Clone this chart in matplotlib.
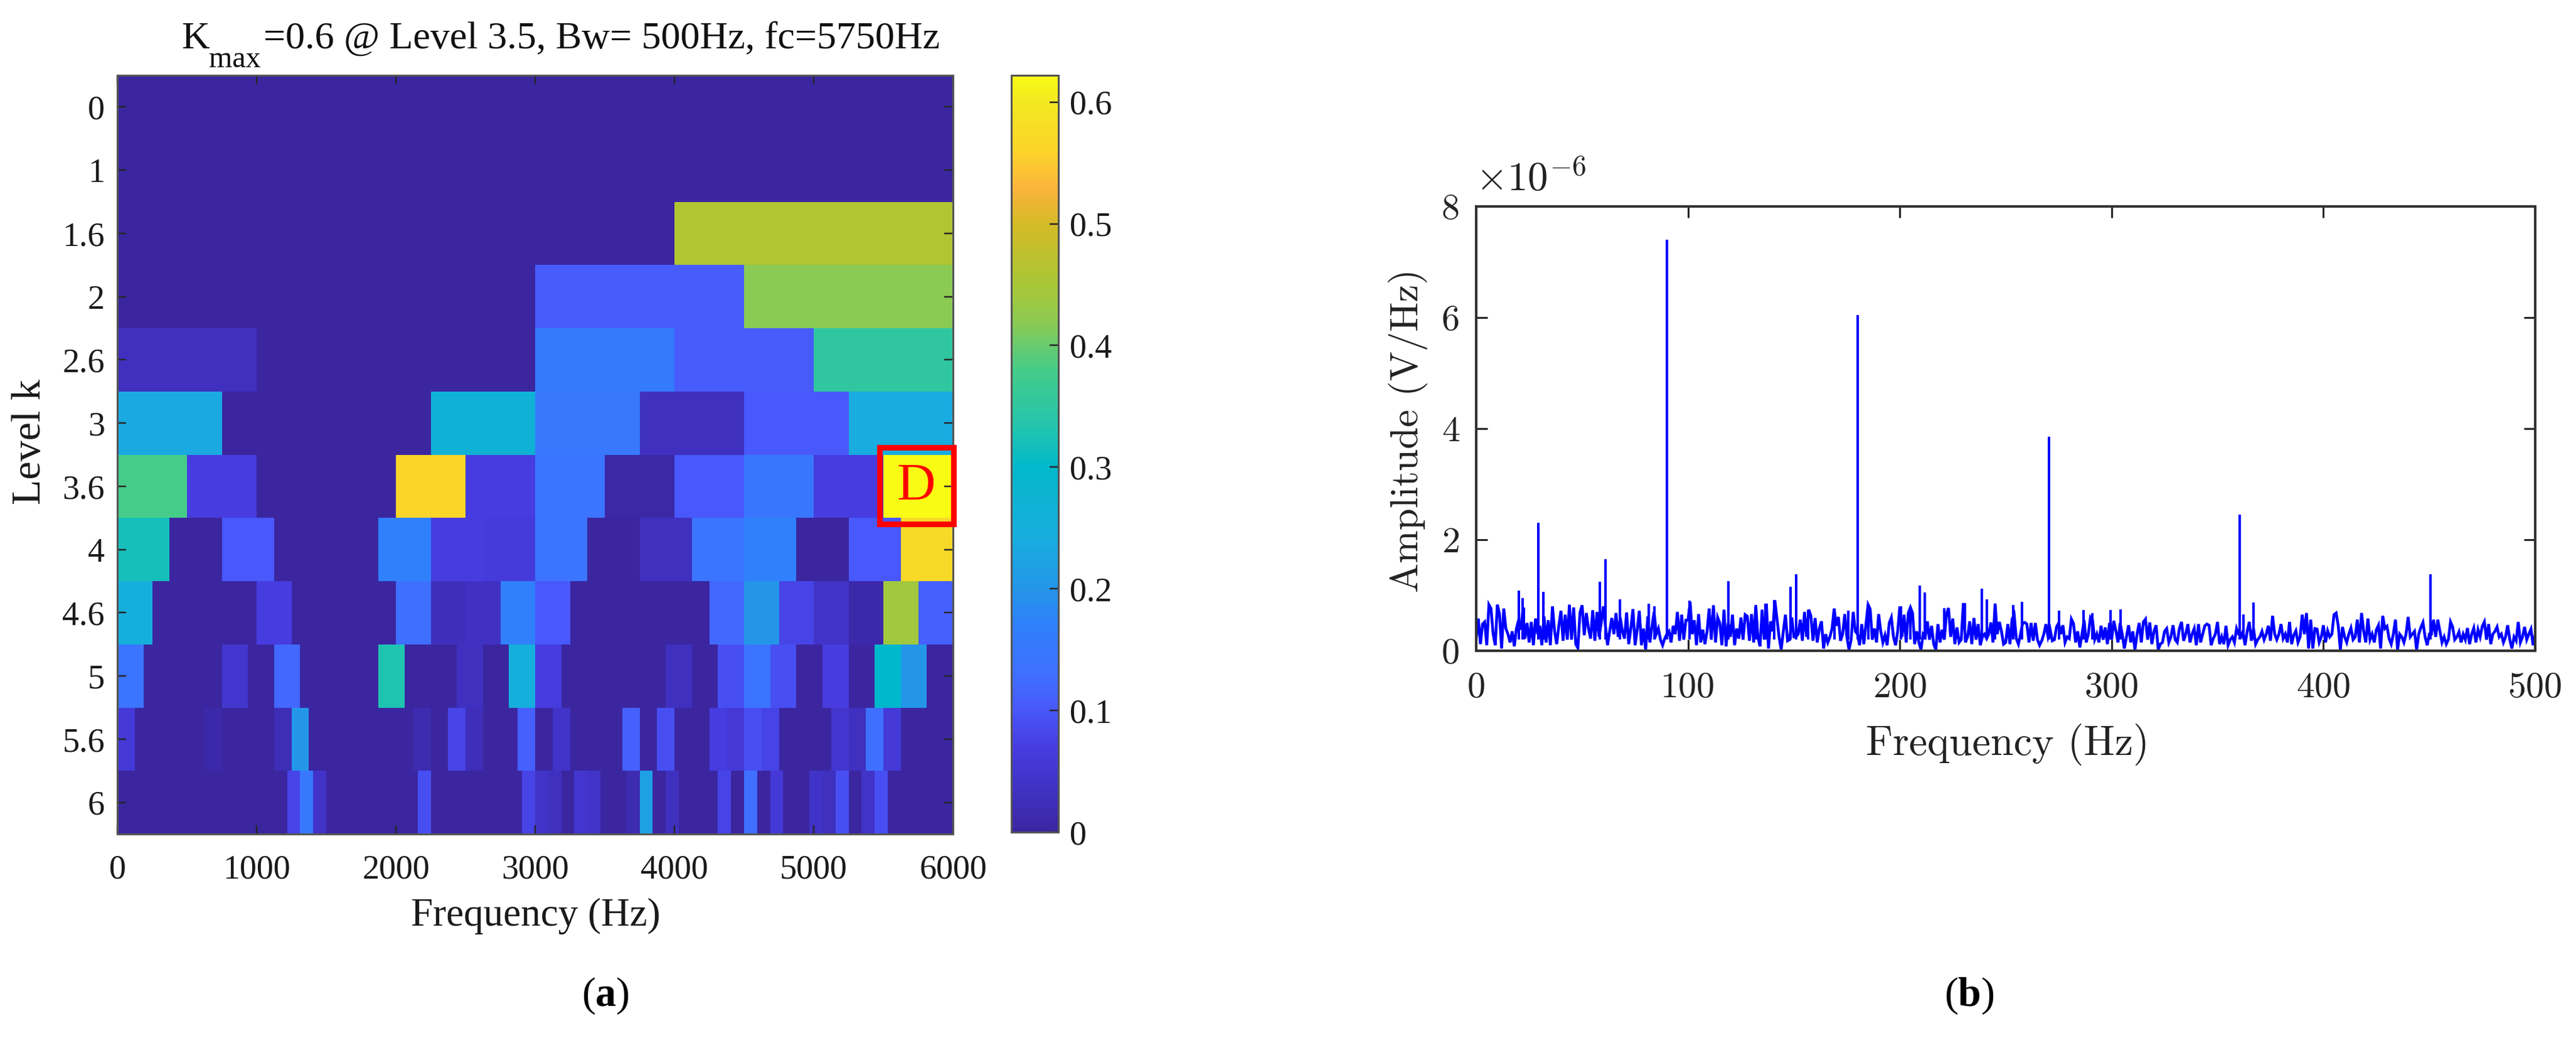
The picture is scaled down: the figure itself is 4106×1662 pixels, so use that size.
import numpy as np
import matplotlib
matplotlib.use("Agg")
import matplotlib.pyplot as plt
from matplotlib.colors import LinearSegmentedColormap, Normalize
from matplotlib.patches import Rectangle

W, H = 4106, 1662
plt.rcParams['font.family'] = ['Liberation Serif', 'DejaVu Sans']
plt.rcParams['mathtext.fontset'] = 'custom'
plt.rcParams['mathtext.rm'] = 'Liberation Serif'
plt.rcParams['mathtext.bf'] = 'Liberation Serif:bold'

# ---- panel (a) data ----
level_labels = ['0', '1', '1.6', '2', '2.6', '3', '3.6', '4', '4.6', '5', '5.6', '6']
row_0 = [0]
row_1 = [0, 0]
row_16 = [0, 0, .46]
row_2 = [0, 0, .105, .42]
row_26 = [.03, 0, 0, .16, .105, .35]
row_3 = [.235, 0, 0, .27, .15, .03, .10, .24]
row_36 = [.38, .07, 0, 0, .56, .07, .14, .005, .10, .145, .07, .622]
row_4 = [.32, 0, .10, 0, 0, .17, .07, .065, .14, 0, .03, .14, .17, 0, .10, .57]
row_46 = [.25, 0, 0, 0, .07, 0, 0, 0, .13, .025, .035, .17, .10, 0, 0, 0, 0, .12, .20, .08, .04, .01, .44, .11]
row_5 = [.14, 0, 0, 0, .05, 0, .12, 0, 0, 0, .33, 0, 0, .03, 0, .25,
         .07, 0, 0, 0, 0, .03, 0, .09, .14, .09, 0, .07, 0, .30, .20, 0]
row_56 = [.06, 0, 0, 0, 0, .01, 0, 0, 0, .02,
          .20, 0, 0, 0, 0, 0, 0, .015, 0, .08,
          .025, 0, 0, .11, 0, .04, 0, 0, 0, .11,
          0, .09, 0, 0, .07, .06, .09, .08, 0, 0,
          0, .05, .03, .13, .06, 0, 0, 0]
row_6 = [0, 0, 0, 0, 0, 0, 0, 0, 0, 0,
         0, 0, 0, .08, .15, .04, 0, 0, 0, 0,
         0, 0, 0, .09, 0, 0, 0, 0, 0, 0,
         0, .08, .04, .03, 0, .05, .04, 0, 0, .015,
         .22, 0, .03, 0, 0, 0, .08, 0, .13, 0,
         .06, 0, 0, .04, .03, .09, 0, .04, .09, 0,
         0, 0, 0, 0]
rows = [row_0, row_1, row_16, row_2, row_26, row_3, row_36, row_4, row_46, row_5, row_56, row_6]
freq_ticks_a = [0, 1000, 2000, 3000, 4000, 5000, 6000]
cbar_ticks = [0, .1, .2, .3, .4, .5, .6]
cbar_labels = ['0', '0.1', '0.2', '0.3', '0.4', '0.5', '0.6']
k_max = 0.622

cmap_values = [0, .03, .07, .10, .13, .17, .20, .24, .28, .30, .33, .38, .42, .44, .46, .50, .515, .53, .56, .60, .622]
cmap_colors = ['#3b26a0', '#3f30c0', '#463de0', '#4858fa', '#3f70ff', '#2f80fb', '#2496e8', '#18ade0',
               '#0cb4d0', '#00b8cc', '#20c4b0', '#45cc8a', '#8cca52', '#a0c840', '#b0c432', '#d4bc26',
               '#e8b632', '#fbb43c', '#fcd42a', '#f2e820', '#f9fb15']

# ---- panel (b) data (units of 1e-6 V/Hz), one value per Hz ----
noise_amp = [
 .23,.58,.12,.48,.52,.10,.83,.76,.30,.10,
 .83,.66,.04,.76,.40,.30,.15,.35,.08,.40,
 .55,.38,.72,.22,.50,.15,.52,.10,.58,.30,
 .45,.10,.62,.15,.55,.10,.80,.35,.12,.45,
 .72,.18,.65,.20,.83,.20,.78,.12,.05,.69,
 .82,.28,.68,.40,.22,.73,.18,.70,.25,.50,
 .80,.45,.10,.35,.59,.30,.68,.25,.60,.35,
 .22,.69,.12,.40,.75,.10,.38,.72,.10,.40,
 .01,.62,.15,.45,.70,.30,.40,.20,.10,.22,
 .30,.35,.15,.45,.30,.70,.18,.65,.20,.55,
 .55,.88,.30,.55,.10,.66,.15,.38,.12,.35,
 .76,.20,.82,.15,.60,.50,.10,.74,.08,.50,
 .25,.65,.10,.40,.22,.60,.20,.65,.62,.18,
 .66,.15,.82,.25,.08,.74,.20,.85,.04,.53,
 .35,.91,.58,.25,.02,.35,.65,.18,.20,.60,
 .25,.25,.30,.56,.18,.70,.25,.74,.63,.18,
 .59,.15,.40,.53,.04,.30,.15,.25,.40,.76,
 .45,.61,.18,.30,.66,.25,.02,.20,.70,.35,
 .30,.10,.48,.12,.48,.83,.75,.20,.40,.15,
 .66,.35,.15,.28,.10,.50,.60,.25,.10,.35,
 .80,.25,.65,.15,.68,.78,.68,.12,.35,.15,
 .02,.30,.25,.53,.20,.45,.12,.02,.48,.15,
 .38,.20,.66,.77,.25,.58,.12,.42,.15,.20,
 .86,.15,.25,.53,.12,.59,.20,.48,.10,.25,
 .30,.22,.30,.51,.15,.85,.30,.52,.35,.12,
 .15,.48,.12,.57,.65,.22,.12,.30,.50,.51,
 .48,.15,.50,.18,.50,.20,.10,.18,.30,.48,
 .25,.38,.18,.20,.43,.50,.30,.46,.15,.25,
 .22,.57,.49,.15,.35,.06,.30,.55,.15,.30,
 .60,.55,.20,.30,.15,.45,.20,.42,.12,.50,
 .20,.54,.36,.15,.50,.30,.04,.25,.46,.15,
 .35,.02,.30,.50,.15,.52,.57,.20,.51,.12,
 .35,.46,.02,.12,.15,.35,.40,.15,.25,.46,
 .20,.15,.40,.52,.18,.30,.48,.15,.30,.40,
 .10,.48,.15,.30,.45,.48,.46,.10,.22,.30,
 .52,.12,.25,.12,.45,.10,.20,.25,.15,.40,
 .30,.25,.35,.10,.35,.52,.18,.40,.12,.20,
 .25,.35,.20,.30,.45,.18,.63,.30,.20,.30,
 .48,.22,.30,.15,.52,.12,.28,.36,.15,.25,
 .65,.30,.68,.04,.56,.04,.40,.39,.15,.25,
 .46,.15,.36,.25,.30,.65,.68,.45,.02,.43,
 .25,.15,.30,.41,.20,.25,.56,.15,.68,.35,
 .15,.58,.20,.30,.15,.38,.46,.04,.63,.40,
 .44,.22,.12,.30,.56,.02,.30,.25,.15,.30,
 .61,.25,.30,.35,.02,.30,.42,.51,.25,.10,
 .30,.30,.56,.25,.56,.35,.15,.25,.12,.20,
 .52,.43,.20,.25,.34,.15,.30,.20,.41,.12,
 .30,.41,.15,.38,.25,.44,.52,.20,.48,.12,
 .30,.35,.43,.25,.30,.15,.25,.46,.20,.04,
 .25,.18,.52,.15,.25,.43,.20,.30,.39,.10,
 .29]
peak_freq = [20.1, 21.8, 22.6, 29.3, 31.7, 58.5, 60.9, 67.9, 81.5, 84.0, 90.05, 100.8, 119.2,
             132.2, 136.5, 140.8, 148.5, 151.0, 156.8, 169.1, 175.6, 180.15, 185.2, 200.5, 205.1,
             209.4, 211.8, 221.0, 230.7, 238.6, 241.2, 245.0, 253.6, 257.6, 270.35, 275.1, 286.6,
             290.8, 299.4, 304.2, 360.45, 362.4, 367.0, 450.55]
peak_amp = [1.08, .95, .78, 2.30, 1.06, 1.24, 1.65, .93, .85, .80, 7.40, .90, 1.25,
            .82, .85, .91, 1.15, 1.38, .74, .76, .72, 6.05, .83, .80, .78,
            1.18, 1.05, .77, .86, 1.12, .93, .85, .82, .88, 3.85, .72, .74,
            .68, .74, .75, 2.45, .65, .87, 1.38]
freq_ticks_b = [0, 100, 200, 300, 400, 500]
amp_ticks = [0, 2, 4, 6, 8]


def rect_px(l, t, r, b):
    return [l / W, 1 - b / H, (r - l) / W, (b - t) / H]


def pt(px):
    return px * 0.72


fig = plt.figure(figsize=(W / 100, H / 100), dpi=100, facecolor='white')

# ---------- panel (a) ----------
cmap = LinearSegmentedColormap.from_list(
    'parula_like', [(v / k_max, c) for v, c in zip(cmap_values, cmap_colors)], N=256)
norm = Normalize(0, k_max)
ax = fig.add_axes(rect_px(187, 120, 1519, 1329))
mesh = None
for i, row in enumerate(rows):
    edges = np.linspace(0, 6000, len(row) + 1)
    mesh = ax.pcolormesh(edges, [i, i + 1], [row], cmap=cmap, norm=norm,
                         linewidth=0, edgecolors='none', rasterized=True)
ax.set_xlim(0, 6000)
ax.set_ylim(12, 0)
ax.set_xticks(freq_ticks_a)
ax.set_yticks(np.arange(12) + .5)
ax.set_yticklabels(level_labels)
ax.tick_params(direction='in', top=True, right=True, length=pt(14), width=pt(2.5),
               color='#262626', labelsize=pt(54), labelcolor='#1a1a1a')
ax.tick_params(axis='x', pad=pt(32))
ax.tick_params(axis='y', pad=pt(20))
for s in ax.spines.values():
    s.set_linewidth(pt(3))
    s.set_color('#555555')
ax.set_xlabel('Frequency (Hz)', fontsize=pt(63), color='#1a1a1a')
ax.xaxis.set_label_coords(854 / W, 1 - 1460 / H, transform=fig.transFigure)
ax.xaxis.label.set_va('center')
ax.set_ylabel('Level k', fontsize=pt(66), color='#1a1a1a')
ax.yaxis.set_label_coords(48 / W, 1 - 704 / H, transform=fig.transFigure)
ax.yaxis.label.set_va('center')
ax.add_patch(Rectangle((5472, 5.89), 6003 - 5472, 7.10 - 5.89, fill=False,
                       edgecolor='#ff0000', linewidth=pt(9), clip_on=False, zorder=5))
ax.text(5735, 6.52, 'D', color='#ff0000', fontsize=pt(85), ha='center', va='center', zorder=6)

tkw = dict(transform=fig.transFigure, color='#111111', fontsize=pt(62), va='baseline', ha='left')
ax.text(289 / W, 1 - 77 / H, 'K', **tkw)
ax.text(333 / W, 1 - 107 / H, 'max', **{**tkw, 'fontsize': pt(48)})
ax.text(420 / W, 1 - 77 / H, '=0.6 @ Level 3.5, Bw= 500Hz, fc=5750Hz', **tkw)

cax = fig.add_axes(rect_px(1612, 120, 1687, 1326))
cb = fig.colorbar(mesh, cax=cax)
cb.set_ticks(cbar_ticks)
cb.set_ticklabels(cbar_labels)
cax.tick_params(direction='in', length=pt(14), width=pt(2.5), color='#262626',
                labelsize=pt(54), labelcolor='#1a1a1a', pad=pt(18))
cb.outline.set_linewidth(pt(3))
cb.outline.set_edgecolor('#555555')

fig.text(965 / W, 1 - 1587 / H, r'($\mathbf{a}$)', fontsize=pt(66), ha='center', va='center', color='black')

# ---------- panel (b) ----------
bx = fig.add_axes(rect_px(2353, 329, 4041, 1037))
bx.plot(np.arange(len(noise_amp)), noise_amp, color='#0000ff', linewidth=pt(4.5), solid_joinstyle='miter')
bx.vlines(peak_freq, 0.2, peak_amp, color='#0000ff', linewidth=pt(4))
bx.set_xlim(0, 500)
bx.set_ylim(0, 8)
bx.set_xticks(freq_ticks_b)
bx.set_yticks(amp_ticks)
bx.set_xticklabels([str(v) for v in freq_ticks_b], family='cmr10')
bx.set_yticklabels([str(v) for v in amp_ticks], family='cmr10')
bx.tick_params(direction='in', top=True, right=True, length=pt(18), width=pt(3),
               color='#262626', labelsize=pt(58), labelcolor='#222222')
bx.tick_params(axis='x', pad=pt(34))
bx.tick_params(axis='y', pad=pt(26))
for s in bx.spines.values():
    s.set_linewidth(pt(4))
    s.set_color('#333333')
bx.set_xlabel('Frequency (Hz)', fontsize=pt(66), family='cmr10', color='#222222')
bx.xaxis.set_label_coords(3200 / W, 1 - 1187 / H, transform=fig.transFigure)
bx.xaxis.label.set_va('center')
bx.set_ylabel('Amplitude (V/Hz)', fontsize=pt(63), family='cmr10', color='#222222')
bx.yaxis.set_label_coords(2244 / W, 1 - 686 / H, transform=fig.transFigure)
bx.yaxis.label.set_va('center')
bx.text(2352 / W, 1 - 305 / H, r'$\times 10^{-6}$', transform=fig.transFigure, fontsize=pt(65),
        math_fontfamily='cm', color='#222222', ha='left', va='baseline')

fig.text(3139 / W, 1 - 1587 / H, r'($\mathbf{b}$)', fontsize=pt(66), ha='center', va='center', color='black')

fig.savefig('out.png', dpi=100, facecolor='white')
